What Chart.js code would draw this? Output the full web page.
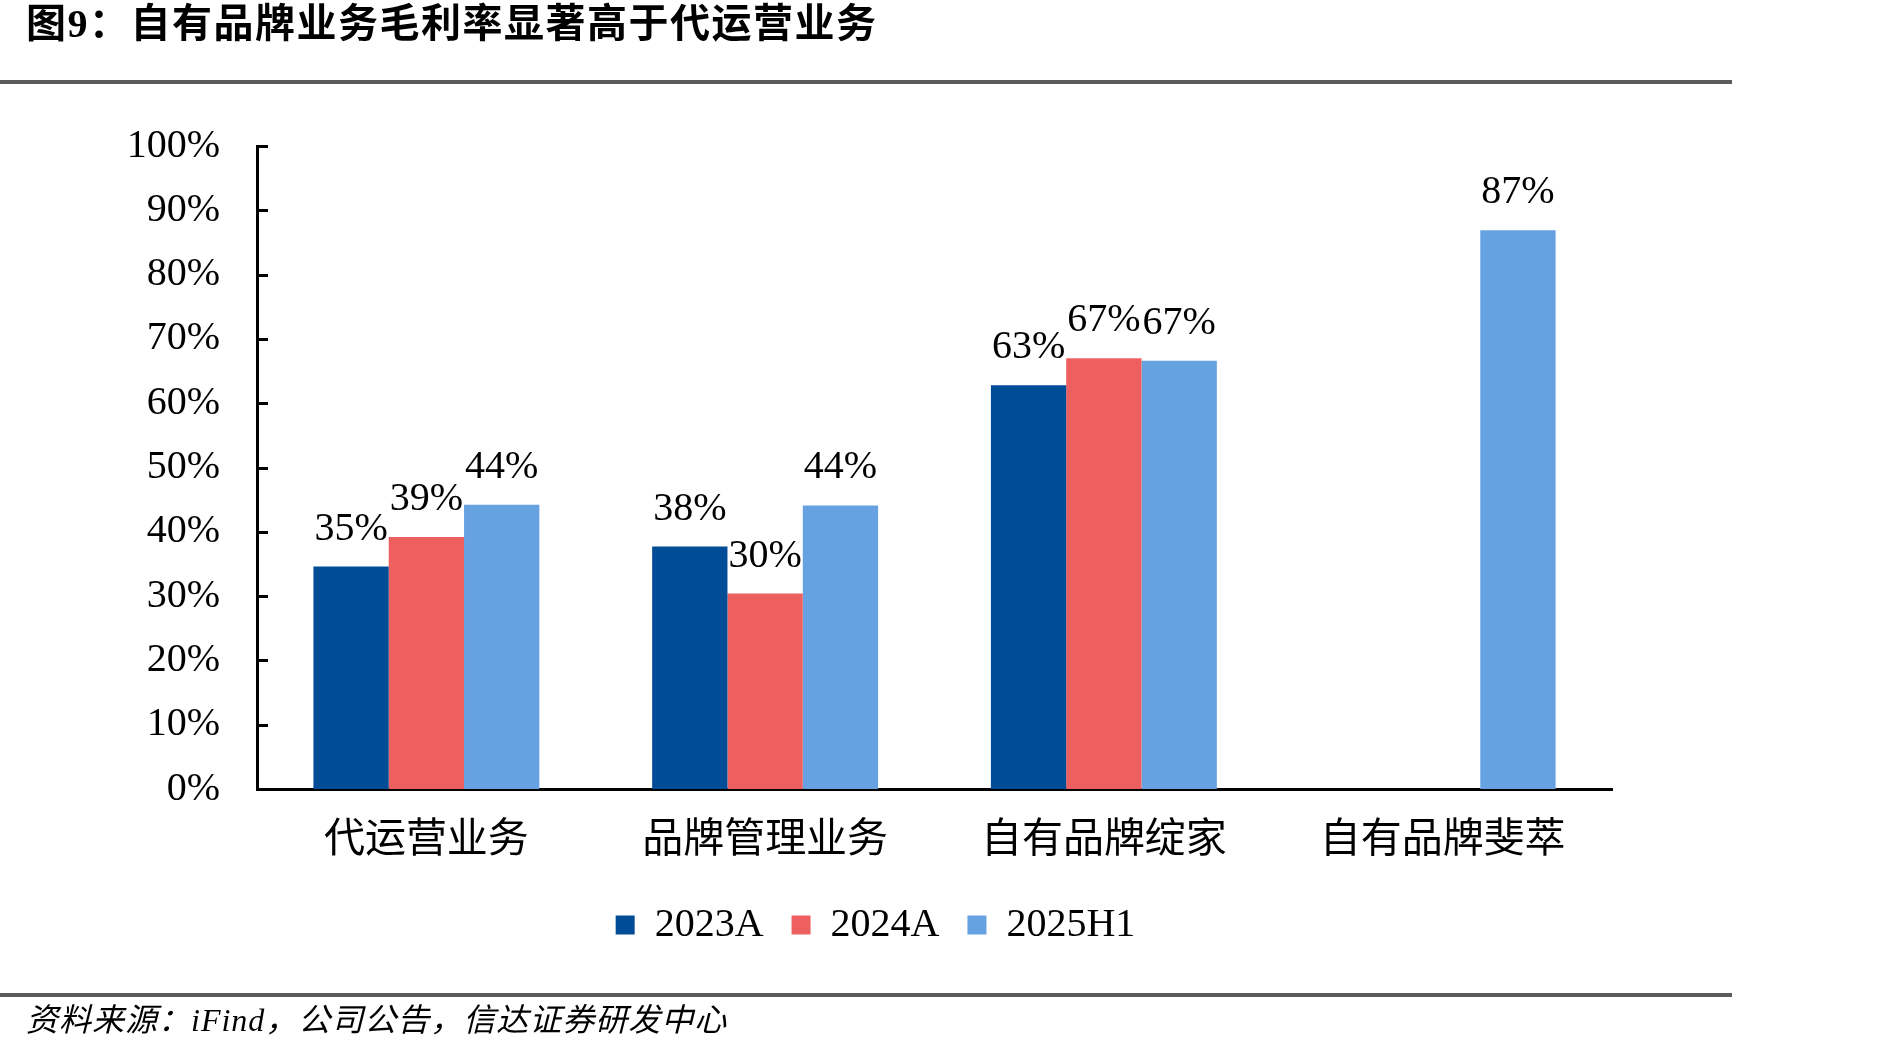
<!DOCTYPE html>
<html><head><meta charset="utf-8">
<script src="https://cdn.jsdelivr.net/npm/chart.js@4.4.1/dist/chart.umd.min.js"></script>
<style>
html,body{margin:0;padding:0;background:#fff;width:1889px;height:1052px;overflow:hidden;}
#wrap{position:absolute;left:0;top:0;width:1889px;height:1052px;}
#title{position:absolute;left:26px;top:0px;height:48px;line-height:48px;font-family:"Liberation Serif","Noto Sans CJK SC",serif;font-weight:bold;font-size:40px;letter-spacing:1.5px;color:#000;white-space:nowrap;z-index:2;}
.rule{position:absolute;left:0;width:1732px;height:4px;background:#5c5c5c;z-index:2;}
#source{position:absolute;left:26px;top:1002px;height:36px;line-height:36px;font-family:"Liberation Serif","Noto Sans CJK SC",serif;font-style:italic;font-size:32px;letter-spacing:1px;color:#000;white-space:nowrap;z-index:2;}
canvas{position:absolute;left:0;top:0;}
</style>
</head><body>
<div id="wrap">
<div id="title">图9：自有品牌业务毛利率显著高于代运营业务</div>
<div class="rule" style="top:80px"></div>
<canvas id="c" width="1889" height="1052"></canvas>
<div class="rule" style="top:993px"></div>
<div id="source">资料来源：iFind，公司公告，信达证券研发中心</div>
</div>
<script>
const categories = ['代运营业务', '品牌管理业务', '自有品牌绽家', '自有品牌斐萃'];
const seriesNames = ['2023A', '2024A', '2025H1'];
const values2023A = [34.6, 37.7, 62.8, null];
const values2024A = [39.2, 30.4, 67.0, null];
const values2025H1 = [44.2, 44.1, 66.6, 86.9];
const yMin = 0, yMax = 100, yStep = 10;
const colors = ['#004C97', '#EE6060', '#66A2E2'];

const FONT = "'Liberation Serif', 'Noto Sans CJK SC', serif";

const innerTicks = {
  id: 'innerTicks',
  afterDraw(chart) {
    const y = chart.scales.y, ctx = chart.ctx;
    ctx.save();
    ctx.strokeStyle = '#000';
    ctx.lineWidth = 3;
    y.ticks.forEach((t, i) => {
      const py = Math.round(y.getPixelForTick(i)) + 0.5;
      ctx.beginPath();
      ctx.moveTo(chart.chartArea.left - 1, py);
      ctx.lineTo(chart.chartArea.left + 11, py);
      ctx.stroke();
    });
    ctx.restore();
  }
};

const dataLabels = {
  id: 'dataLabels',
  afterDatasetsDraw(chart) {
    const ctx = chart.ctx;
    ctx.save();
    ctx.font = '40px ' + FONT;
    ctx.fillStyle = '#000';
    ctx.textAlign = 'center';
    ctx.textBaseline = 'alphabetic';
    chart.data.datasets.forEach((ds, i) => {
      const meta = chart.getDatasetMeta(i);
      meta.data.forEach((bar, j) => {
        const v = ds.data[j];
        if (v === null || v === undefined) return;
        ctx.fillText(Math.round(v) + '%', bar.x, bar.y - 27);
      });
    });
    ctx.restore();
  }
};

new Chart(document.getElementById('c'), {
  type: 'bar',
  data: {
    labels: categories,
    datasets: [
      {label: seriesNames[0], data: values2023A, backgroundColor: colors[0], borderWidth: 0},
      {label: seriesNames[1], data: values2024A, backgroundColor: colors[1], borderWidth: 0},
      {label: seriesNames[2], data: values2025H1, backgroundColor: colors[2], borderWidth: 0}
    ]
  },
  options: {
    responsive: false,
    animation: false,
    devicePixelRatio: 1,
    categoryPercentage: 0.667,
    barPercentage: 1.0,
    layout: {padding: {left: 0, right: 138, top: 146, bottom: 97}},
    plugins: {
      legend: {
        display: true,
        position: 'bottom',
        labels: {
          boxWidth: 19, boxHeight: 19, padding: 28,
          color: '#000',
          font: {family: FONT, size: 40}
        }
      },
      tooltip: {enabled: false}
    },
    scales: {
      x: {
        grid: {display: false, drawTicks: false},
        border: {display: true, color: '#000', width: 3},
        ticks: {color: '#000', padding: 28, font: {family: FONT, size: 41}},
        afterFit(s) { s.height = 88; }
      },
      y: {
        min: yMin, max: yMax,
        grid: {display: false, drawTicks: false},
        border: {display: true, color: '#000', width: 3},
        ticks: {
          stepSize: yStep, color: '#000', padding: 37,
          font: {family: FONT, size: 40},
          callback: v => v + '%'
        },
        afterFit(s) { s.width = 257; }
      },
      yR: {
        position: 'right',
        min: yMin, max: yMax,
        grid: {display: false, drawTicks: false},
        border: {display: false},
        ticks: {display: false},
        afterFit(s) { s.width = 139; }
      }
    }
  },
  plugins: [innerTicks, dataLabels]
});
</script>
</body></html>
